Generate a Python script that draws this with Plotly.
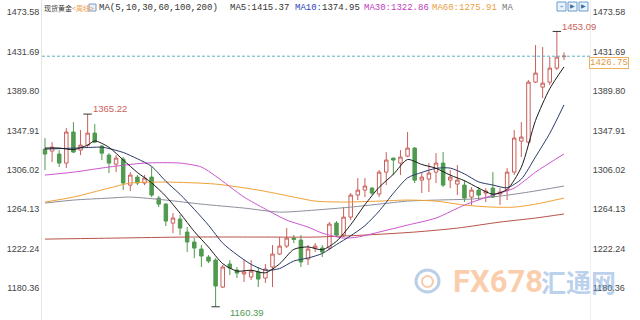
import plotly.graph_objects as go

# ---------------- data (weekly spot gold) ----------------
weeks = list(range(74))
opens = [1328.0, 1325.9, 1322.7, 1313.1, 1346.1, 1326.9, 1332.2, 1345.0, 1331.2, 1321.6,
         1312.0, 1317.3, 1289.7, 1298.2, 1291.9, 1298.2, 1275.9, 1269.5, 1249.3, 1253.6,
         1239.8, 1229.2, 1221.7, 1213.2, 1210.0, 1181.3, 1205.8, 1199.4, 1195.2, 1192.0,
         1197.3, 1190.9, 1202.6, 1216.4, 1224.9, 1233.4, 1231.3, 1211.1, 1222.8, 1222.8,
         1222.8, 1249.3, 1236.6, 1255.7, 1279.1, 1284.4, 1286.5, 1280.2, 1303.5, 1318.4,
         1313.1, 1320.5, 1329.1, 1295.0, 1296.1, 1303.5, 1313.1, 1295.0, 1290.8, 1289.7,
         1277.0, 1284.4, 1281.2, 1286.5, 1280.2, 1284.4, 1303.5, 1336.5, 1335.4, 1399.2,
         1393.9, 1399.2, 1414.1, 1426.2]
highs = [1339.7, 1335.4, 1326.9, 1350.3, 1356.7, 1348.2, 1365.22, 1354.6, 1332.2, 1323.7,
         1321.6, 1319.5, 1303.5, 1300.4, 1300.4, 1308.9, 1278.0, 1270.6, 1260.0, 1257.9,
         1245.1, 1233.4, 1226.0, 1215.3, 1212.1, 1204.7, 1210.0, 1202.6, 1210.0, 1210.0,
         1202.6, 1205.8, 1226.0, 1234.5, 1244.0, 1236.6, 1236.6, 1226.0, 1228.1, 1226.0,
         1250.4, 1251.5, 1266.3, 1281.2, 1297.2, 1297.2, 1287.6, 1305.7, 1324.8, 1318.9,
         1326.9, 1346.1, 1330.1, 1302.5, 1313.1, 1323.7, 1324.8, 1305.7, 1311.0, 1295.0,
         1287.6, 1287.6, 1286.5, 1303.5, 1286.5, 1307.8, 1348.2, 1356.7, 1401.3, 1438.5,
         1436.4, 1425.8, 1453.09, 1430.7]
lows = [1305.7, 1314.2, 1308.9, 1307.8, 1323.7, 1321.6, 1330.1, 1334.4, 1316.3, 1302.5,
        1303.5, 1284.4, 1283.4, 1289.7, 1289.7, 1277.0, 1266.3, 1246.2, 1238.7, 1236.6,
        1218.5, 1212.1, 1202.6, 1206.8, 1160.39, 1180.3, 1194.1, 1190.9, 1186.7, 1188.8,
        1181.3, 1185.6, 1181.3, 1215.3, 1222.8, 1228.1, 1202.6, 1204.7, 1218.5, 1213.2,
        1220.6, 1234.5, 1234.5, 1252.5, 1273.8, 1277.0, 1279.1, 1277.0, 1289.7, 1300.4,
        1300.4, 1319.5, 1291.9, 1281.2, 1282.3, 1291.9, 1287.6, 1286.5, 1279.1, 1271.7,
        1268.5, 1273.8, 1271.7, 1275.9, 1268.5, 1273.8, 1300.4, 1319.5, 1332.2, 1398.1,
        1382.2, 1396.0, 1411.9, 1422.6]
closes = [1322.7, 1330.1, 1313.1, 1346.1, 1324.8, 1332.2, 1345.0, 1335.4, 1323.7, 1313.1,
          1318.4, 1291.9, 1300.4, 1291.9, 1297.2, 1279.1, 1269.5, 1251.5, 1254.7, 1244.0,
          1229.2, 1222.8, 1214.3, 1208.9, 1182.4, 1202.6, 1201.5, 1196.2, 1197.3, 1198.3,
          1189.8, 1200.5, 1216.4, 1224.9, 1233.4, 1232.0, 1207.9, 1221.7, 1224.9, 1218.5,
          1248.3, 1236.6, 1255.7, 1279.1, 1284.4, 1288.7, 1281.2, 1303.5, 1316.3, 1316.3,
          1319.5, 1329.1, 1295.0, 1298.2, 1302.5, 1313.1, 1289.7, 1298.2, 1295.0, 1275.9,
          1284.4, 1279.1, 1283.4, 1277.0, 1282.3, 1303.5, 1339.7, 1340.8, 1399.2, 1408.8,
          1398.1, 1414.1, 1425.8, 1426.75]

ma5_idx = [0, 2, 4, 6, 7, 9, 11, 13, 15, 17, 19, 21, 23, 25, 27, 29, 31, 33, 35, 37, 39,
           41, 43, 45, 47, 49, 51, 53, 55, 57, 59, 61, 63, 65, 67, 69, 71, 73]
ma5_val = [1329.1, 1329.1, 1327.4, 1332.2, 1336.7, 1329.9, 1316.5, 1303.1, 1292.1, 1277.8,
           1259.8, 1240.4, 1223.8, 1206.2, 1198.3, 1199.2, 1196.4, 1206.0, 1221.4, 1224.0,
           1221.0, 1230.0, 1247.6, 1268.9, 1287.4, 1301.2, 1316.9, 1311.6, 1307.6, 1300.3,
           1294.4, 1286.5, 1280.0, 1285.1, 1308.7, 1358.4, 1392.2, 1415.37]
ma10_idx = [0, 4, 8, 9, 11, 13, 15, 17, 19, 21, 23, 25, 27, 29, 31, 33, 35, 37, 39, 41,
            43, 45, 47, 49, 51, 53, 55, 57, 59, 61, 63, 65, 67, 69, 71, 73]
ma10_val = [1328.0, 1329.0, 1330.0, 1328.6, 1324.4, 1317.7, 1309.6, 1293.7, 1279.9, 1264.0,
            1247.1, 1228.0, 1215.7, 1205.4, 1199.2, 1201.0, 1209.0, 1212.2, 1217.0, 1226.5,
            1235.8, 1246.6, 1262.1, 1281.0, 1297.4, 1303.2, 1307.5, 1307.8, 1301.6, 1293.1,
            1289.8, 1286.9, 1296.1, 1319.8, 1344.7, 1374.95]
ma30_idx = [0, 4, 9, 14, 19, 22, 24, 28, 31, 34, 37, 39, 42, 44, 47, 51, 55, 59, 63, 66, 69, 73]
ma30_val = [1300.4, 1303.5, 1308.9, 1313.1, 1313.1, 1308.9, 1299.3, 1277.0, 1264.2, 1252.5,
            1245.1, 1238.7, 1233.4, 1234.5, 1239.8, 1247.2, 1254.7, 1268.5, 1279.1, 1286.5,
            1303.5, 1322.86]
ma60_idx = [0, 4, 9, 12, 17, 24, 30, 35, 38, 42, 47, 51, 55, 59, 63, 66, 69, 73]
ma60_val = [1271.7, 1277.0, 1286.5, 1291.9, 1292.9, 1290.8, 1284.4, 1277.0, 1272.7, 1271.7,
            1272.7, 1273.8, 1272.7, 1268.5, 1266.3, 1266.3, 1269.5, 1275.91]
ma100_idx = [0, 4, 9, 12, 17, 22, 28, 33, 38, 43, 47, 51, 55, 60, 64, 68, 73]
ma100_val = [1270.6, 1273.8, 1275.9, 1277.0, 1273.8, 1269.5, 1265.3, 1261.0, 1263.2, 1266.3,
             1269.5, 1272.7, 1273.8, 1274.9, 1278.0, 1282.3, 1288.7]
ma200_idx = [0, 10, 20, 30, 38, 45, 52, 58, 64, 69, 73]
ma200_val = [1232.3, 1233.4, 1234.5, 1234.5, 1234.5, 1236.6, 1239.8, 1244.0, 1250.4, 1254.7, 1259.0]

tick_vals = [1473.58, 1431.69, 1389.80, 1347.91, 1306.02, 1264.13, 1222.24, 1180.36]
tick_text = ["1473.58", "1431.69", "1389.80", "1347.91", "1306.02", "1264.13", "1222.24", "1180.36"]

last_price = 1426.75
ext_idx = [6, 72, 24]
ext_val = [1365.22, 1453.09, 1160.39]
ext_text = ["1365.22", "1453.09", "1160.39"]

header_title = "现货黄金"
header_period = "<周线>"
header_ma = "MA(5,10,30,60,100,200)"

# ---------------- styling ----------------
W, H = 640, 320
ML, MR, MT, MB = 42, 50, 0, 0
PW, PH = W - ML - MR, H - MT - MB
UP, DOWN = "#c95f5a", "#4f9a4f"
C_MA5, C_MA10, C_MA30, C_MA60, C_MA100, C_MA200 = "#1a1a1a", "#2b3a67", "#cc55cc", "#f0a035", "#8a8f99", "#b8524a"
YR = [1146.3, 1486.5]
XR = [-0.42, 76.66]
MONO = "Liberation Mono, DejaVu Sans Mono, monospace"
SANS = "Liberation Sans, Arial, sans-serif"
CJK = "Noto Sans CJK SC, sans-serif"


def px(x):
    return (x - ML) / PW


def py(y):
    return 1 - (y - MT) / PH


fig = go.Figure()
fig.add_trace(go.Candlestick(
    x=weeks, open=opens, high=highs, low=lows, close=closes,
    increasing=dict(line=dict(color=UP, width=1), fillcolor="white"),
    decreasing=dict(line=dict(color=DOWN, width=1), fillcolor=DOWN),
    whiskerwidth=0, hoverinfo="skip", showlegend=False))

for idx, val, col in [(ma200_idx, ma200_val, C_MA200), (ma100_idx, ma100_val, C_MA100),
                      (ma60_idx, ma60_val, C_MA60), (ma30_idx, ma30_val, C_MA30),
                      (ma10_idx, ma10_val, C_MA10), (ma5_idx, ma5_val, C_MA5)]:
    fig.add_trace(go.Scatter(x=idx, y=val, mode="lines",
                             line=dict(color=col, width=1, shape="spline", smoothing=0.7),
                             hoverinfo="skip", showlegend=False))

# extreme markers
fig.add_trace(go.Scatter(x=ext_idx, y=ext_val, mode="markers",
                         marker=dict(symbol="line-ew", size=6, line=dict(color="#333", width=1)),
                         hoverinfo="skip", showlegend=False))
# dummy trace for right axis
fig.add_trace(go.Scatter(x=[None], y=[None], yaxis="y2", showlegend=False, hoverinfo="skip"))

# last price dashed line
fig.add_shape(type="line", xref="paper", x0=0, x1=1, y0=last_price, y1=last_price, yref="y",
              line=dict(color="#5ab0c0", width=1, dash="3px,2px"))

# extreme labels
ext_cols = [UP, UP, DOWN]
ext_shift = [(3, 6), (3, 5), (12, -6)]
for i, v, t, c, (xs, ys) in zip(ext_idx, ext_val, ext_text, ext_cols, ext_shift):
    fig.add_annotation(x=i, y=v, text=t, showarrow=False, xanchor="left", yanchor="middle",
                       xshift=xs, yshift=ys, font=dict(color=c, size=9.5, family=SANS))

# last price box on right
fig.add_annotation(x=px(589), y=last_price, xref="paper", yref="y", text="%.2f" % last_price,
                   showarrow=False, xanchor="left", yanchor="top", yshift=-1,
                   font=dict(color="#e09a40", size=9, family=MONO),
                   bordercolor="#f0b060", borderwidth=1, borderpad=0, bgcolor="white")


def txt(x, y, s, color, size, family):
    fig.add_annotation(x=px(x), y=py(y), xref="paper", yref="paper", text=s, showarrow=False,
                       xanchor="left", yanchor="middle", font=dict(color=color, size=size, family=family))


def span(s, color):
    return "<span style='color:%s'>%s</span>" % (color, s)


# header
txt(42, 8, header_title, "#333", 7, CJK)
txt(70, 8, header_period, "#e8a050", 7, CJK)
fig.add_shape(type="rect", xref="paper", yref="paper", x0=px(89), x1=px(96), y0=py(11), y1=py(4),
              line=dict(color="#7f9cc0", width=1), fillcolor="#eaf1f8")
txt(97, 8, header_ma, "#333", 9, MONO)
txt(228, 8, "MA5:%.2f" % ma5_val[-1], "#333", 9, MONO)
txt(293, 8, span("MA10:", "#2b45b8") + span("%.2f" % ma10_val[-1], "#333"), "#333", 9, MONO)
txt(362, 8, "MA30:%.2f" % ma30_val[-1], "#c040c0", 9, MONO)
txt(430, 8, "MA60:%.2f" % ma60_val[-1], "#e8a040", 9, MONO)
txt(500, 8, "MA", "#777", 9, MONO)

# tool icons top-right
for x0, sym in [(557, "÷"), (568, "▶"), (579, "▶")]:
    fig.add_shape(type="rect", xref="paper", yref="paper", x0=px(x0), x1=px(x0 + 9), y0=py(11), y1=py(2),
                  line=dict(color="#6a9ccc", width=1), fillcolor="#eaf2fb")
    fig.add_annotation(x=px(x0 + 4.5), y=py(6.5), xref="paper", yref="paper", text=sym, showarrow=False,
                       xanchor="center", yanchor="middle", font=dict(color="#3a6ea8", size=6, family=SANS))

# watermark
fig.add_shape(type="circle", xref="paper", yref="paper", x0=px(416), x1=px(439), y0=py(292), y1=py(270),
              line=dict(color="rgba(120,160,205,0.5)", width=3))
fig.add_shape(type="circle", xref="paper", yref="paper", x0=px(422), x1=px(433), y0=py(287), y1=py(276),
              line=dict(color="rgba(240,160,100,0.55)", width=2))
fig.add_annotation(x=px(451), y=py(281), xref="paper", yref="paper", text="<b>FX678</b>", showarrow=False,
                   xanchor="left", yanchor="middle",
                   font=dict(color="rgba(245,158,90,0.5)", size=31, family="Roboto, " + SANS))
fig.add_annotation(x=px(539), y=py(281), xref="paper", yref="paper", text="<b>汇通网</b>", showarrow=False,
                   xanchor="left", yanchor="middle",
                   font=dict(color="rgba(100,150,212,0.45)", size=25, family=CJK))

axis_font = dict(color="#444", size=9, family=SANS)
fig.update_layout(
    width=W, height=H, margin=dict(l=ML, r=MR, t=MT, b=MB),
    paper_bgcolor="white", plot_bgcolor="white", showlegend=False,
    xaxis=dict(range=XR, visible=False, rangeslider=dict(visible=False), fixedrange=True),
    yaxis=dict(range=YR, tickvals=tick_vals, ticktext=tick_text, showgrid=False, zeroline=False,
               showline=True, linecolor="#e4e4e4", linewidth=1, ticks="", tickfont=axis_font,
               fixedrange=True),
    yaxis2=dict(range=YR, tickvals=tick_vals, ticktext=tick_text, overlaying="y", side="right",
                showgrid=False, zeroline=False, showline=True, linecolor="#f0f0f0", linewidth=1,
                ticks="", tickfont=axis_font, fixedrange=True),
)

fig.write_html("out.html")
